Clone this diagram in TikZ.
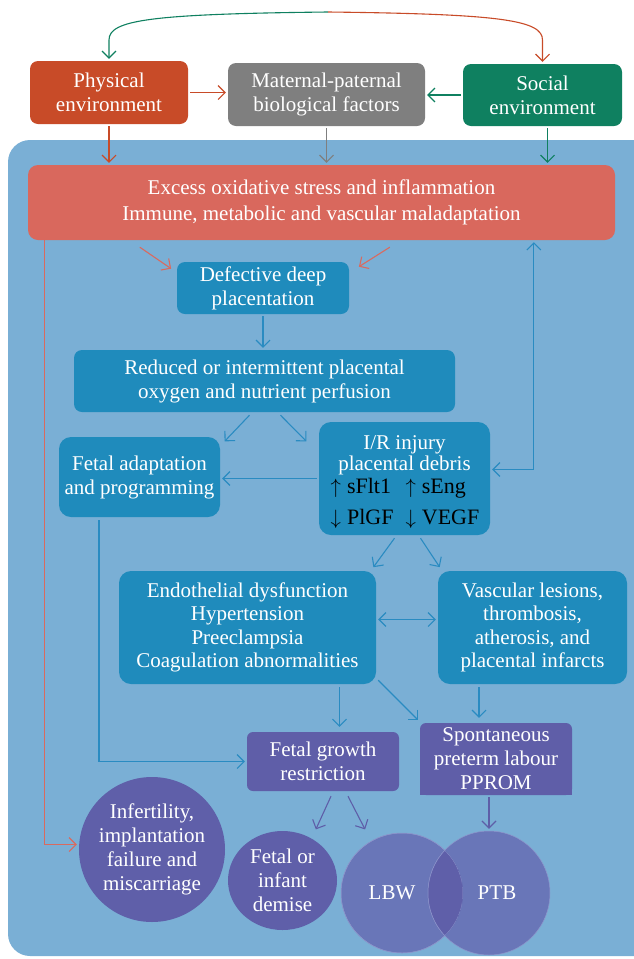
\documentclass[tikz,border=0pt]{standalone}
\usepackage{fontspec}
\setmainfont{Liberation Serif}
\usetikzlibrary{arrows.meta,calc,shapes.geometric}
\definecolor{panel}{HTML}{7AAFD5}
\definecolor{bbox}{HTML}{1F8BBC}
\definecolor{physred}{HTML}{C84B28}
\definecolor{matgray}{HTML}{7F7F7F}
\definecolor{socgreen}{HTML}{0F8060}
\definecolor{excess}{HTML}{D9685D}
\definecolor{purp}{HTML}{5F5EA8}
\definecolor{circlight}{HTML}{6976B8}
\definecolor{circdark}{HTML}{5F5FA9}
\definecolor{circline}{HTML}{8E96CC}
\definecolor{ablue}{HTML}{2A8BC1}
\definecolor{aexc}{HTML}{D96A5F}
\definecolor{apurp}{HTML}{5E5EA8}
\begin{document}
\begin{tikzpicture}[x=1pt,y=-1pt,
  every node/.style={font=\fontsize{21}{24}\selectfont, text=white, align=center, inner sep=0pt},
  box/.style={rounded corners=8pt},
  circ/.style={ellipse, draw=none},
  arr/.style={-{Straight Barb[length=7pt,width=14pt]}, line width=1.1pt, shorten <=2pt, shorten >=2pt},
  arrboth/.style={{Straight Barb[length=7pt,width=14pt]}-{Straight Barb[length=7pt,width=14pt]}, line width=1.1pt, shorten <=2pt, shorten >=2pt},
]
\useasboundingbox (0,0) rectangle (634,959);
\begin{scope}
  \clip (0,0) rectangle (634,959);
  \fill[panel, rounded corners=22pt] (8,140) rectangle (660,956);
\end{scope}

% top row
\node[box, fill=physred, minimum width=158pt, minimum height=63pt] (phys) at (109,92.5) {Physical\\environment};
\node[box, fill=matgray, minimum width=197pt, minimum height=63pt] (mat) at (326.5,94.5) {Maternal-paternal\\biological factors};
\node[box, fill=socgreen, minimum width=159pt, minimum height=62pt] (soc) at (542.5,95) {Social\\environment};

\node[box, rounded corners=10pt, fill=excess, minimum width=587pt, minimum height=75pt] (exc) at (321.5,202.5)
  {Excess oxidative stress and inflammation\\[2pt]Immune, metabolic and vascular maladaptation};

% blue boxes
\node[box, fill=bbox, minimum width=172pt, minimum height=52pt] (def) at (263,288) {Defective deep\\placentation};
\node[box, fill=bbox, minimum width=381pt, minimum height=62pt] (red) at (264.5,381) {Reduced or intermittent placental\\oxygen and nutrient perfusion};
\node[box, rounded corners=12pt, fill=bbox, minimum width=161pt, minimum height=80pt] (fa) at (139.5,477) {Fetal adaptation\\and programming};
\node[box, rounded corners=12pt, fill=bbox, minimum width=171pt, minimum height=113pt] (ir) at (404.5,478.5) {};
\node (irtop) at (404.5,455) {I/R injury\\[-3pt]placental debris};
\node[font=\fontsize{22}{26}\selectfont, text=black] (irbot) at (405,504)
  {\begin{tabular}{@{}l@{\hspace{12pt}}l@{}}$\uparrow$\hspace{6pt}sFlt1 & $\uparrow$\hspace{6pt}sEng\\[5pt]$\downarrow$\hspace{6pt}PlGF & $\downarrow$\hspace{6pt}VEGF\end{tabular}};
\node[box, rounded corners=12pt, fill=bbox, minimum width=257pt, minimum height=113pt] (endo) at (247.5,627.5)
  {Endothelial dysfunction\\[-0.5pt]Hypertension\\[-0.5pt]Preeclampsia\\[-0.5pt]Coagulation abnormalities};
\node[box, rounded corners=12pt, fill=bbox, minimum width=189pt, minimum height=113pt] (vasc) at (532.5,627.5)
  {Vascular lesions,\\[-0.5pt]thrombosis,\\[-0.5pt]atherosis, and\\[-0.5pt]placental infarcts};

% purple boxes
\node[box, rounded corners=6pt, fill=purp, minimum width=152pt, minimum height=59pt] (fgr) at (323,761.5) {Fetal growth\\restriction};
\fill[purp] (420,760) rectangle (572,795);
\node[box, rounded corners=6pt, fill=purp, minimum width=152pt, minimum height=72pt] (spont) at (496,759) {Spontaneous\\preterm labour\\PPROM};

% circles
\node[circ, fill=circdark, minimum width=146pt, minimum height=145pt] (inf) at (152,849.5) {};
\node (inft) at (152,849) {Infertility,\\implantation\\failure and\\miscarriage};
\node[circ, fill=circdark, minimum width=109pt, minimum height=99pt] (dem) at (282.5,880.5) {};
\node (demt) at (282.5,880) {Fetal or\\infant\\demise};
\node[circ, fill=circlight, draw=circline, line width=0.5pt, minimum width=122pt, minimum height=120pt] (lbw) at (402,893) {};
\node[circ, fill=circlight, draw=circline, line width=0.5pt, minimum width=122pt, minimum height=124pt] (ptb) at (489,893) {};
\begin{scope}
  \clip (402,893) ellipse [x radius=61pt, y radius=60pt];
  \fill[circdark] (489,893) ellipse [x radius=61pt, y radius=62pt];
  \draw[circline, line width=0.5pt] (489,893) ellipse [x radius=61pt, y radius=62pt];
  \draw[circline, line width=0.5pt] (402,893) ellipse [x radius=61pt, y radius=60pt];
\end{scope}
\node (lbwt) at (392,893) {LBW};
\node (ptbt) at (497,893) {PTB};

% top curve
\coordinate (topmid) at (328,12);
\draw[arr, socgreen, shorten <=0pt] (topmid) .. controls (150,14) and (109,20) .. (109,40) -- (phys.north);
\draw[arr, physred, shorten <=0pt] (topmid) .. controls (500,14) and (542.5,20) .. (542.5,40) -- (soc.north);

% top row connectors
\draw[arr, physred] (phys.east) -- (phys.east -| mat.west);
\draw[arr, socgreen] (soc.west) -- (soc.west -| mat.east);
\draw[arr, physred] (phys.south) -- (phys.south |- exc.north);
\draw[arr, matgray] (mat.south) -- (mat.south |- exc.north);
\draw[arr, socgreen] ($(soc.south)+(5,0)$) -- ($(soc.south |- exc.north)+(5,0)$);

% excess to defective
\draw[arr, aexc, shorten <=0pt] ($(exc.south west)+(112,7)$) -- ($(def.north west)+(-4,8)$);
\draw[arr, aexc, shorten <=0pt] ($(exc.south west)+(362,7)$) -- ($(def.north east)+(8,6)$);

% blue connectors
\draw[arr, ablue] (def.south) -- (def.south |- red.north);
\draw[arr, ablue, shorten <=0pt] ($(red.south)+(-15,3)$) -- ($(fa.north east)+(3,6)$);
\draw[arr, ablue, shorten <=0pt] ($(red.south)+(16,3)$) -- ($(ir.north west)+(-11,21)$);
\draw[arr, ablue] (ir.west) -- (ir.west -| fa.east);
\draw[arrboth, ablue] ($(ir.east)+(0,-9)$) -| ($(exc.south west)+(506,0)$);
\draw[arr, ablue, shorten <=0pt] ($(ir.south)+(-10,3)$) -- ($(endo.north east)+(-4,-2)$);
\draw[arr, ablue, shorten <=0pt] ($(ir.south)+(16,3)$) -- ($(vasc.north west)+(3,-2)$);
\draw[arrboth, ablue] ($(endo.east)+(0,-8)$) -- ($(vasc.west)+(0,-8)$);
\draw[arr, ablue, shorten <=0pt] ($(endo.south)+(92,3)$) -- ($(fgr.north)+(16.5,-3)$);
\draw[arr, ablue, shorten <=0pt] ($(endo.south east)+(2,-4)$) -- ($(spont.north west)+(0,-1)$);
\draw[arr, ablue, shorten <=0pt] ($(vasc.south)+(-53.5,3)$) -- ($(spont.north)+(-17,-3)$);
\draw[arr, ablue, shorten <=0pt] ($(fa.south)+(-40.5,3)$) |- (fgr.west);

% purple connectors
\draw[arr, apurp, shorten <=0pt] ($(fgr.south)+(8,5)$) -- ($(fgr.south)+(-8,40)$);
\draw[arr, apurp, shorten <=0pt] ($(fgr.south)+(25,5)$) -- ($(fgr.south)+(43,40)$);
\draw[arr, apurp] (spont.south -| ptb.north) -- (ptb.north);

% red line to infertility
\draw[arr, aexc, shorten <=0pt] ($(exc.south west)+(17,0)$) |- ($(inf.west)+(0,-5)$);
\end{tikzpicture}
\end{document}
